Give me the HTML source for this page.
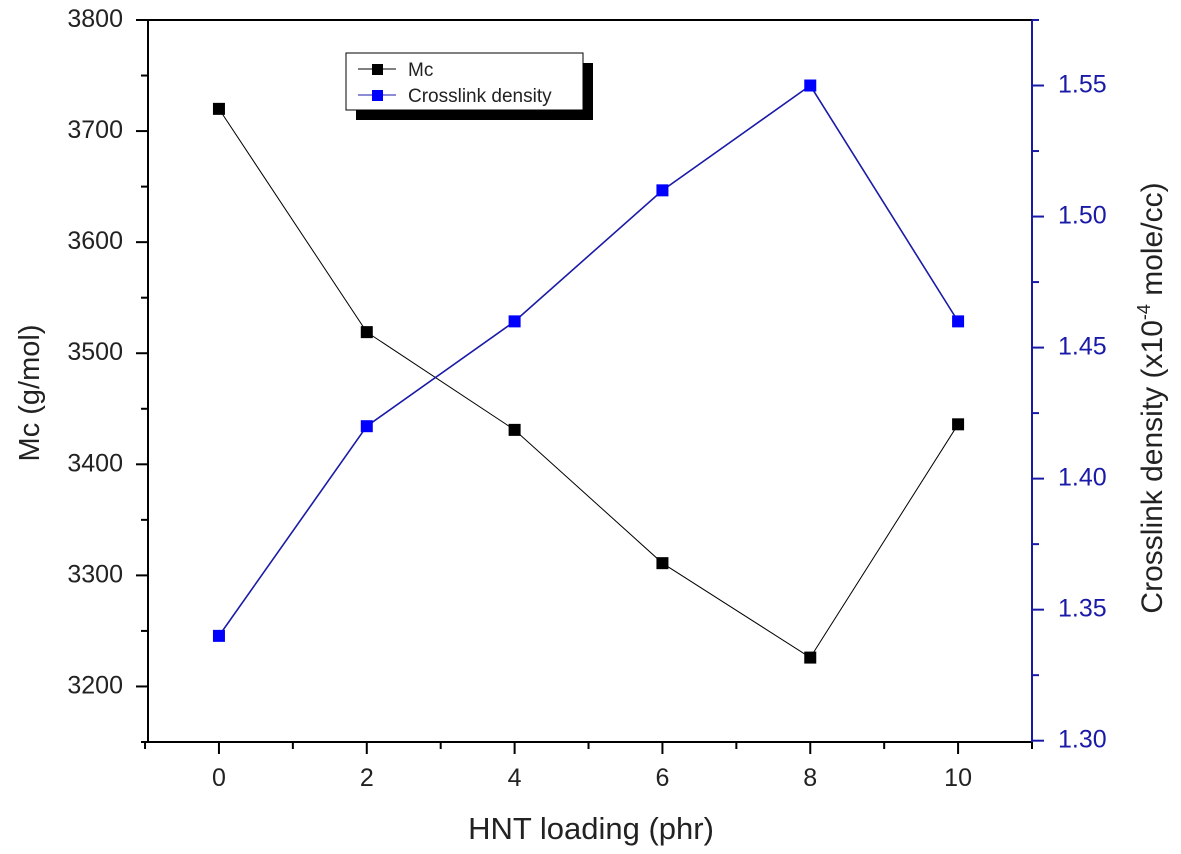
<!DOCTYPE html>
<html><head><meta charset="utf-8"><style>
body{margin:0;background:#fff;}
svg{display:block;font-family:"Liberation Sans",Arial,sans-serif;}
</style></head><body>
<svg id="chart" width="1181" height="854"></svg>
<script>
const xCats=[0,2,4,6,8,10];
const mcValues=[3720,3519,3431,3311,3226,3436];
const cdValues=[1.34,1.42,1.46,1.51,1.55,1.46];
const xTicks=[0,2,4,6,8,10];
const yLeftTicks=[3200,3300,3400,3500,3600,3700,3800];
const yRightTicks=[1.30,1.35,1.40,1.45,1.50,1.55];

const L=148,R=1032,T=20,B=742;
const sx=v=>L+(v+0.96)/(11.96)*(R-L);
const syL=v=>B-(v-3150)/650*(B-T);
const syR=v=>B-(v-1.2995)/0.2755*(B-T);
const svg=document.getElementById('chart');
const NS='http://www.w3.org/2000/svg';
function mk(tag,attrs,parent){const e=document.createElementNS(NS,tag);for(const k in attrs)e.setAttribute(k,attrs[k]);(parent||svg).appendChild(e);return e;}

let e;
e=mk('line',{x1:L,y1:T,x2:L,y2:B+1,stroke:'#000','stroke-width':2});

e=mk('line',{x1:L-1,y1:B,x2:R,y2:B,stroke:'#000','stroke-width':2});

e=mk('line',{x1:L,y1:T,x2:R,y2:T,stroke:'#000','stroke-width':2});

e=mk('line',{x1:R,y1:T,x2:R,y2:B,stroke:'#1a1aa8','stroke-width':2});


for(let v=-1;v<=11;v++){
  const x=sx(v);const major=v%2===0&&v>=0&&v<=10;
  mk('line',{x1:x,y1:B,x2:x,y2:B+(major?12:7),stroke:'#000','stroke-width':2});
}
xTicks.forEach(v=>{e=mk('text',{x:sx(v),y:B+44,'text-anchor':'middle','font-size':25,fill:'#222'});e.textContent=v;
});
for(let v=3150;v<=3800;v+=50){const y=syL(v);mk('line',{x1:L,y1:y,x2:L-(v%100===0?12:7),y2:y,stroke:'#000','stroke-width':2});}
yLeftTicks.forEach(v=>{e=mk('text',{x:L-25,y:syL(v)+7,'text-anchor':'end','font-size':25,fill:'#222'});e.textContent=v;
});
for(let i=0;i<=11;i++){const v=1.30+i*0.025;const y=syR(v);mk('line',{x1:R,y1:y,x2:R+(i%2===0?12:7),y2:y,stroke:'#1a1aa8','stroke-width':2});}
yRightTicks.forEach(v=>{e=mk('text',{x:R+26,y:syR(v)+7,'text-anchor':'start','font-size':25,fill:'#1a1aa8'});e.textContent=v.toFixed(2);
});

function series(vals,sy,col,mcol,name){
  const pts=xCats.map((c,i)=>sx(c)+','+sy(vals[i])).join(' ');
  e=mk('polyline',{points:pts,fill:'none',stroke:col,'stroke-width':name==='mc'?1:1.6});
  
  xCats.forEach((c,i)=>{e=mk('rect',{x:sx(c)-6,y:sy(vals[i])-6,width:12,height:12,fill:mcol});
  });
}
series(mcValues,syL,'#000','#000','mc');
series(cdValues,syR,'#1a1aa8','#0000ff','crosslink');

e=mk('text',{x:591,y:839,'text-anchor':'middle','font-size':31,fill:'#222'});e.textContent='HNT loading (phr)';

e=mk('text',{x:0,y:0,'text-anchor':'middle','font-size':29,fill:'#222',transform:'translate(39,393) rotate(-90)'});e.textContent='Mc (g/mol)';

e=mk('text',{x:0,y:0,'text-anchor':'middle','font-size':30,fill:'#222',transform:'translate(1162,398) rotate(-90)'});
e.innerHTML='Crosslink density (x10<tspan dy="-12" font-size="18">-4</tspan><tspan dy="12"> mole/cc)</tspan>';


const g=mk('g',{});
mk('rect',{x:356,y:63,width:237,height:57,fill:'#000'},g);
mk('rect',{x:346,y:53,width:237,height:57,fill:'#fff',stroke:'#000','stroke-width':1},g);
mk('line',{x1:358,y1:69,x2:396,y2:69,stroke:'#000','stroke-width':1},g);
mk('rect',{x:372,y:64,width:11,height:11,fill:'#000'},g);
e=mk('text',{x:408,y:76,'font-size':19,fill:'#222'},g);e.textContent='Mc';

mk('line',{x1:358,y1:95,x2:396,y2:95,stroke:'#1a1aa8','stroke-width':1},g);
mk('rect',{x:372,y:90,width:11,height:11,fill:'#0000ff'},g);
e=mk('text',{x:408,y:102,'font-size':19,fill:'#222'},g);e.textContent='Crosslink density';

</script>
</body></html>
